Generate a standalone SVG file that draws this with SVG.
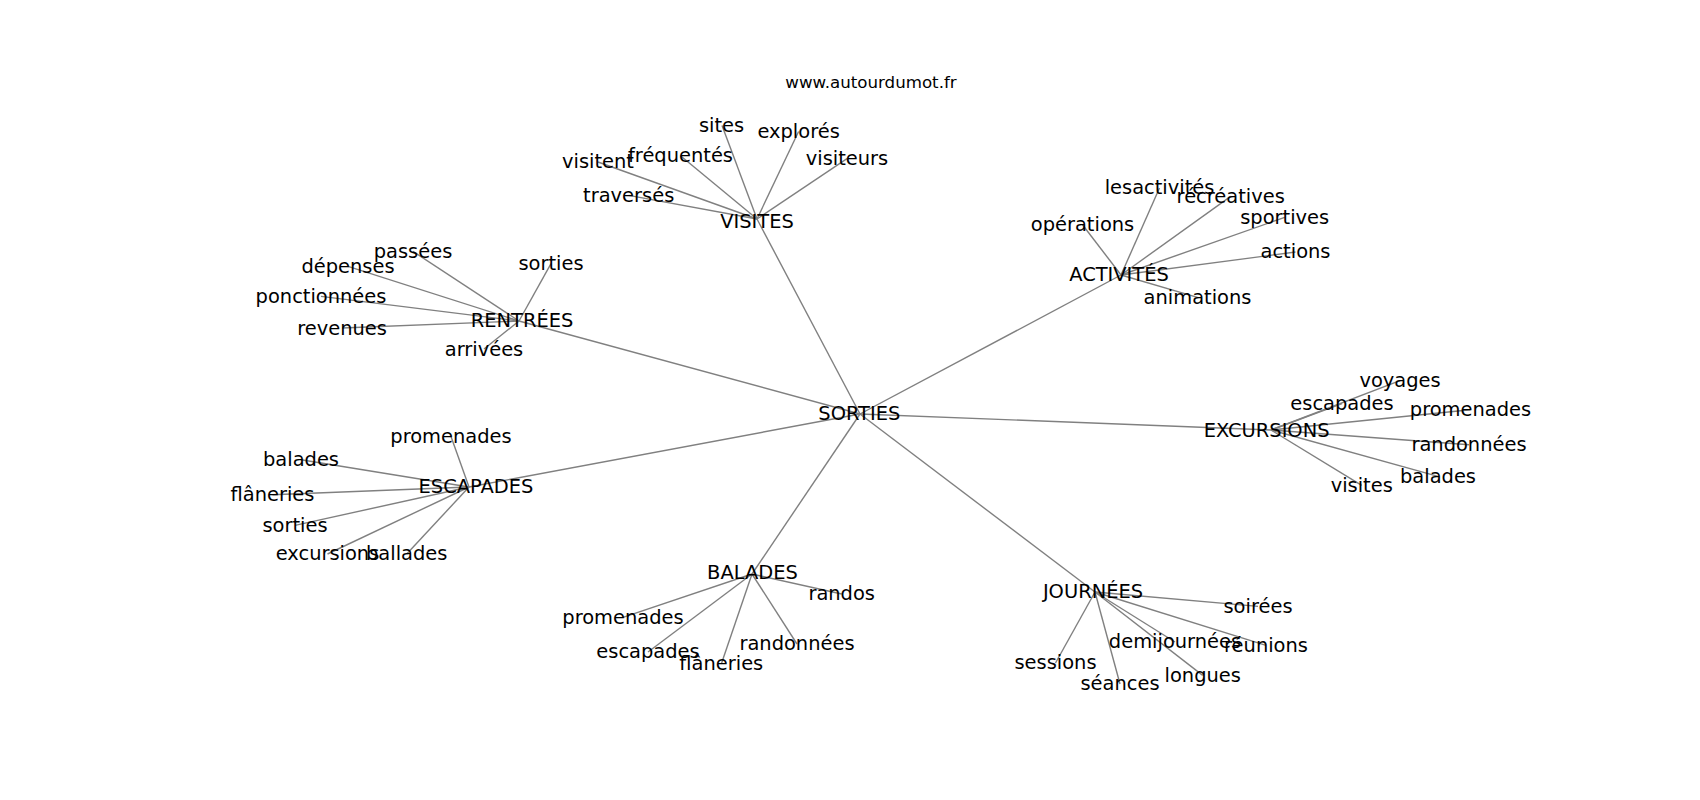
<svg xmlns="http://www.w3.org/2000/svg" width="1700" height="800" viewBox="0 0 1700 800">
<style>
.lbl{font-family:"DejaVu Sans","Liberation Sans",sans-serif;font-size:19.44px;fill:#000;text-anchor:middle}
.title{font-family:"DejaVu Sans","Liberation Sans",sans-serif;font-size:16.67px;fill:#000;text-anchor:middle}
.edges line{stroke:#808080;stroke-width:1.4;fill:none}
</style>
<rect width="1700" height="800" fill="#fff"/>
<text class="title" x="871" y="87.5">www.autourdumot.fr</text>
<g id="connectors" class="edges">
<line x1="860" y1="414" x2="757" y2="219"/>
<line x1="860" y1="414" x2="519" y2="321"/>
<line x1="860" y1="414" x2="1121" y2="275"/>
<line x1="860" y1="414" x2="1271" y2="430"/>
<line x1="860" y1="414" x2="469" y2="487"/>
<line x1="860" y1="414" x2="752" y2="574"/>
<line x1="860" y1="414" x2="1095" y2="592"/>
<line x1="757" y1="219" x2="722" y2="125.5"/>
<line x1="757" y1="219" x2="798.6" y2="131.5"/>
<line x1="757" y1="219" x2="847" y2="158.7"/>
<line x1="757" y1="219" x2="680.5" y2="155.7"/>
<line x1="757" y1="219" x2="598" y2="162"/>
<line x1="757" y1="219" x2="628.7" y2="195.4"/>
<line x1="519" y1="321" x2="413" y2="251.4"/>
<line x1="519" y1="321" x2="348" y2="266.4"/>
<line x1="519" y1="321" x2="551" y2="263.7"/>
<line x1="519" y1="321" x2="321" y2="296.4"/>
<line x1="519" y1="321" x2="342" y2="328"/>
<line x1="519" y1="321" x2="484" y2="349"/>
<line x1="1121" y1="275" x2="1159.5" y2="188"/>
<line x1="1121" y1="275" x2="1082.5" y2="224.7"/>
<line x1="1121" y1="275" x2="1230.7" y2="196.4"/>
<line x1="1121" y1="275" x2="1284.7" y2="217.4"/>
<line x1="1121" y1="275" x2="1295.5" y2="252"/>
<line x1="1121" y1="275" x2="1197.5" y2="297.4"/>
<line x1="1271" y1="430" x2="1400" y2="380.7"/>
<line x1="1271" y1="430" x2="1342" y2="403.7"/>
<line x1="1271" y1="430" x2="1470.5" y2="409.7"/>
<line x1="1271" y1="430" x2="1469" y2="444.7"/>
<line x1="1271" y1="430" x2="1438" y2="476.4"/>
<line x1="1271" y1="430" x2="1361.7" y2="485.4"/>
<line x1="469" y1="487" x2="451" y2="436.4"/>
<line x1="469" y1="487" x2="301" y2="459.7"/>
<line x1="469" y1="487" x2="272.5" y2="494.7"/>
<line x1="469" y1="487" x2="295" y2="525.4"/>
<line x1="469" y1="487" x2="327.5" y2="554"/>
<line x1="469" y1="487" x2="406.7" y2="554"/>
<line x1="752" y1="574" x2="841.7" y2="594"/>
<line x1="752" y1="574" x2="623" y2="617.4"/>
<line x1="752" y1="574" x2="648" y2="652"/>
<line x1="752" y1="574" x2="721.3" y2="664"/>
<line x1="752" y1="574" x2="797" y2="644"/>
<line x1="1095" y1="592" x2="1258" y2="606.4"/>
<line x1="1095" y1="592" x2="1175" y2="642"/>
<line x1="1095" y1="592" x2="1266" y2="645.4"/>
<line x1="1095" y1="592" x2="1055.5" y2="663"/>
<line x1="1095" y1="592" x2="1120" y2="684"/>
<line x1="1095" y1="592" x2="1202.7" y2="675.4"/>
</g>
<g id="nodes" transform="translate(0,1.2)">
<g id="n-sorties"><text class="lbl" x="859.3" y="419.3">SORTIES</text></g>
<g id="n-visites"><text class="lbl" x="757" y="227">VISITES</text></g>
<g id="n-visites-sites"><text class="lbl" x="721.5" y="130.7">sites</text></g>
<g id="n-visites-exploles"><text class="lbl" x="798.6" y="136.7">explorés</text></g>
<g id="n-visites-visiteurs"><text class="lbl" x="847" y="164">visiteurs</text></g>
<g id="n-visites-frequentes"><text class="lbl" x="680.5" y="161">fréquentés</text></g>
<g id="n-visites-visitent"><text class="lbl" x="598" y="167.3">visitent</text></g>
<g id="n-visites-traverses"><text class="lbl" x="628.7" y="200.7">traversés</text></g>
<g id="n-rentrees"><text class="lbl" x="522" y="326">RENTRÉES</text></g>
<g id="n-rentrees-passees"><text class="lbl" x="413" y="256.7">passées</text></g>
<g id="n-rentrees-depenses"><text class="lbl" x="348" y="271.7">dépenses</text></g>
<g id="n-rentrees-sorties"><text class="lbl" x="551" y="269">sorties</text></g>
<g id="n-rentrees-ponctionnees"><text class="lbl" x="321" y="301.7">ponctionnées</text></g>
<g id="n-rentrees-revenues"><text class="lbl" x="342" y="334">revenues</text></g>
<g id="n-rentrees-arrivees"><text class="lbl" x="484" y="354.8">arrivées</text></g>
<g id="n-activites"><text class="lbl" x="1119" y="280">ACTIVITÉS</text></g>
<g id="n-activites-lesactivites"><text class="lbl" x="1159.5" y="193.3">lesactivités</text></g>
<g id="n-activites-operations"><text class="lbl" x="1082.5" y="230">opérations</text></g>
<g id="n-activites-recreatives"><text class="lbl" x="1230.7" y="201.7">récréatives</text></g>
<g id="n-activites-sportives"><text class="lbl" x="1284.7" y="222.7">sportives</text></g>
<g id="n-activites-actions"><text class="lbl" x="1295.5" y="257.3">actions</text></g>
<g id="n-activites-animations"><text class="lbl" x="1197.5" y="302.7">animations</text></g>
<g id="n-excursions"><text class="lbl" x="1266.7" y="436">EXCURSIONS</text></g>
<g id="n-excursions-voyages"><text class="lbl" x="1400" y="386">voyages</text></g>
<g id="n-excursions-escapades"><text class="lbl" x="1342" y="409">escapades</text></g>
<g id="n-excursions-promenades"><text class="lbl" x="1470.5" y="415">promenades</text></g>
<g id="n-excursions-randonnees"><text class="lbl" x="1469" y="450">randonnées</text></g>
<g id="n-excursions-balades"><text class="lbl" x="1438" y="481.7">balades</text></g>
<g id="n-excursions-visites"><text class="lbl" x="1361.7" y="490.7">visites</text></g>
<g id="n-escapades"><text class="lbl" x="476" y="491.5">ESCAPADES</text></g>
<g id="n-escapades-promenades"><text class="lbl" x="451" y="441.7">promenades</text></g>
<g id="n-escapades-balades"><text class="lbl" x="301" y="465">balades</text></g>
<g id="n-escapades-flaneries"><text class="lbl" x="272.5" y="500">flâneries</text></g>
<g id="n-escapades-sorties"><text class="lbl" x="295" y="530.7">sorties</text></g>
<g id="n-escapades-excursions"><text class="lbl" x="327.5" y="559.3">excursions</text></g>
<g id="n-escapades-ballades"><text class="lbl" x="406.7" y="559.3">ballades</text></g>
<g id="n-balades"><text class="lbl" x="752.5" y="578">BALADES</text></g>
<g id="n-balades-randos"><text class="lbl" x="841.7" y="599.3">randos</text></g>
<g id="n-balades-promenades"><text class="lbl" x="623" y="622.7">promenades</text></g>
<g id="n-balades-escapades"><text class="lbl" x="648" y="657.3">escapades</text></g>
<g id="n-balades-flaneries"><text class="lbl" x="721.3" y="669.3">flâneries</text></g>
<g id="n-balades-randonnees"><text class="lbl" x="797" y="649.3">randonnées</text></g>
<g id="n-journees"><text class="lbl" x="1093" y="596.7">JOURNÉES</text></g>
<g id="n-journees-soirees"><text class="lbl" x="1258" y="611.7">soirées</text></g>
<g id="n-journees-demijournees"><text class="lbl" x="1175" y="647.3">demijournées</text></g>
<g id="n-journees-reunions"><text class="lbl" x="1266" y="650.7">réunions</text></g>
<g id="n-journees-sessions"><text class="lbl" x="1055.5" y="668.3">sessions</text></g>
<g id="n-journees-seances"><text class="lbl" x="1120" y="689.3">séances</text></g>
<g id="n-journees-longues"><text class="lbl" x="1202.7" y="680.7">longues</text></g>
</g>
</svg>
